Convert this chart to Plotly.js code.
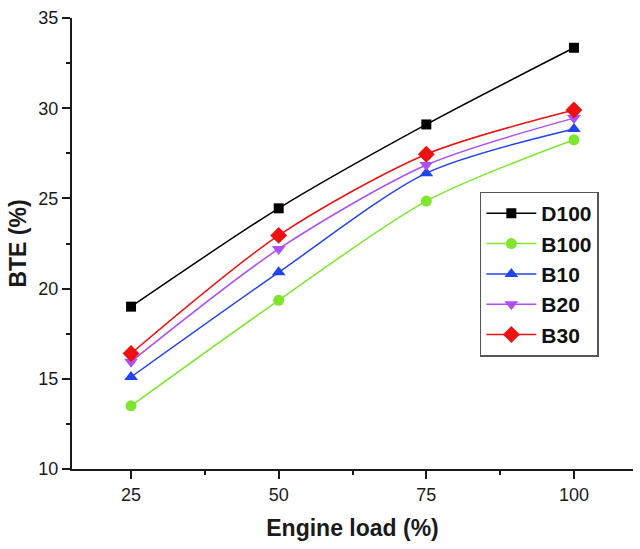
<!DOCTYPE html>
<html>
<head>
<meta charset="utf-8">
<script src="https://cdn.plot.ly/plotly-3.0.1.min.js"></script>
<style>
	html, body {margin:0; padding:0; background:#fff;}
	#myDiv {width:640px; height:549px;}
</style>
</head>
<body>
<div id="myDiv"></div>
<script>
// engine load (%) and brake thermal efficiency (%) per fuel
var engineLoad = [25, 50, 75, 100];
var bteD100 = [19.0, 24.45, 29.1, 33.35];
var bteB100 = [13.5, 19.35, 24.85, 28.25];
var bteB10 = [15.1, 20.9, 26.4, 28.85];
var bteB20 = [15.95, 22.2, 26.85, 29.45];
var bteB30 = [16.4, 22.95, 27.45, 29.9];

function seriesTrace(name, yVals, color, symbol, size){
	return {
		x: engineLoad,
		y: yVals,
		name: name,
		type: 'scatter',
		mode: 'lines+markers',
		line: {color: color, width: 1.5, shape: 'spline', smoothing: 0.8},
		marker: {color: color, symbol: symbol, size: size}
	};
}

var data = [
	seriesTrace('D100', bteD100, '#000000', 'square', 10),
	seriesTrace('B100', bteB100, '#7fe62e', 'circle', 11),
	seriesTrace('B10', bteB10, '#2244ee', 'triangle-up', 12),
	seriesTrace('B20', bteB20, '#b04ef5', 'triangle-down', 12),
	seriesTrace('B30', bteB30, '#ee1111', 'diamond', 13)
];

var tickFont = {family: 'Liberation Sans, Arial, sans-serif', size: 18, color: '#1a1a1a'};
var titleFont = {family: 'Liberation Sans, Arial, sans-serif', size: 23, color: '#1a1a1a', weight: 'bold'};

var layout = {
	width: 640,
	height: 549,
	paper_bgcolor: '#ffffff',
	plot_bgcolor: '#ffffff',
	margin: {l: 72, r: 7, t: 18, b: 80, pad: 0},
	showlegend: true,
	legend: {
		x: 0.727,
		y: 0.615,
		xanchor: 'left',
		yanchor: 'top',
		bordercolor: '#555555',
		borderwidth: 1.5,
		bgcolor: '#ffffff',
		itemwidth: 50,
		font: {family: 'Liberation Sans, Arial, sans-serif', size: 21, color: '#111111', weight: 'bold'}
	},
	xaxis: {
		range: [15, 110],
		tick0: 25,
		dtick: 25,
		ticks: 'outside',
		ticklen: 8,
		tickwidth: 2,
		tickcolor: '#1a1a1a',
		showline: true,
		linecolor: '#1a1a1a',
		linewidth: 2,
		showgrid: false,
		zeroline: false,
		tickfont: tickFont,
		minor: {ticks: 'outside', ticklen: 4, tickwidth: 2, tickcolor: '#1a1a1a', dtick: 12.5, tick0: 25},
		title: {text: 'Engine load (%)', font: titleFont, standoff: 16}
	},
	yaxis: {
		range: [10, 35],
		tick0: 10,
		dtick: 5,
		ticks: 'outside',
		ticklen: 8,
		tickwidth: 2,
		tickcolor: '#1a1a1a',
		showline: true,
		linecolor: '#1a1a1a',
		linewidth: 2,
		showgrid: false,
		zeroline: false,
		tickfont: tickFont,
		minor: {ticks: 'outside', ticklen: 4, tickwidth: 2, tickcolor: '#1a1a1a', dtick: 2.5, tick0: 10},
		title: {text: 'BTE (%)', font: titleFont, standoff: 5}
	}
};

Plotly.newPlot('myDiv', data, layout, {displayModeBar: false, responsive: false});
</script>
</body>
</html>
